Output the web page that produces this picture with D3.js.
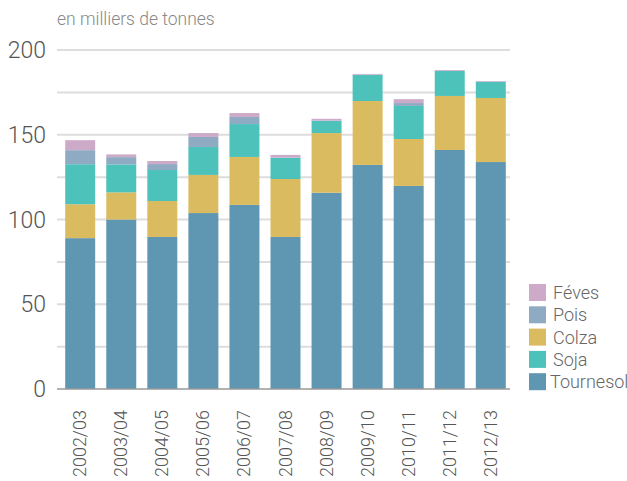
<!DOCTYPE html>
<html>
<head>
<meta charset="utf-8">
<script src="https://cdn.jsdelivr.net/npm/d3@7"></script>
<style>
  body { margin: 0; background: #fff; }
  text { font-family: Roboto, "Noto Sans", sans-serif; font-weight: 300; }
</style>
</head>
<body>
<svg width="627" height="481"></svg>
<script>
const width = 627;
const height = 481;

// data (milliers de tonnes)
const years = ["2002/03", "2003/04", "2004/05", "2005/06", "2006/07", "2007/08",
               "2008/09", "2009/10", "2010/11", "2011/12", "2012/13"];
const tournesol = [89, 100, 89.7, 103.8, 108.6, 89.7, 115.8, 132.2, 119.8, 141, 133.9];
const soja      = [23.6, 16.5, 18.3, 16.5, 19.4, 12.4, 7.1, 15.4, 19.5, 14.7, 9.4];
const colza     = [20, 16, 21.2, 22.5, 28.3, 34.2, 35.2, 37.7, 27.7, 31.9, 37.8];
const pois      = [8.3, 4.3, 3.5, 5.9, 4.2, 0.3, 0.3, 0.2, 1.7, 0.1, 0.3];
const feves     = [5.9, 1.6, 1.8, 2.3, 2.3, 1.5, 1.0, 0.4, 2.3, 0.5, 0.3];
const yTicks = [0, 50, 100, 150, 200];
const legendOrder = ["Féves", "Pois", "Colza", "Soja", "Tournesol"];

const series = [
  { key: "Tournesol", values: tournesol, color: "#5f96b2" },
  { key: "Colza", values: colza, color: "#dbbb5f" },
  { key: "Soja", values: soja, color: "#4cc2ba" },
  { key: "Pois", values: pois, color: "#8eabc3" },
  { key: "Féves", values: feves, color: "#cdaac8" }
];

const rows = years.map((y, i) => {
  const r = { year: y };
  series.forEach(s => r[s.key] = s.values[i]);
  return r;
});
const stacked = d3.stack().keys(series.map(s => s.key))(rows);

const svg = d3.select("svg");

const x = d3.scaleBand()
  .domain(years)
  .range([57, 514])
  .paddingInner(0.27)
  .paddingOuter(0.2);

const y = d3.scaleLinear()
  .domain([0, 200])
  .range([389, 50]);

// gridlines every 25
svg.append("g")
  .selectAll("line")
  .data(d3.range(25, 201, 25))
  .enter()
  .append("line")
  .attr("x1", 57)
  .attr("x2", 510)
  .attr("y1", d => y(d))
  .attr("y2", d => y(d))
  .attr("stroke", "#dddddd")
  .attr("stroke-width", 2);

// bars
svg.append("g")
  .selectAll("g")
  .data(stacked)
  .enter()
  .append("g")
  .attr("fill", (d, i) => series[i].color)
  .selectAll("rect")
  .data(d => d)
  .enter()
  .append("rect")
  .attr("x", d => x(d.data.year))
  .attr("width", x.bandwidth())
  .attr("y", d => y(d[1]))
  .attr("height", d => y(d[0]) - y(d[1]));

// baseline
svg.append("line")
  .attr("x1", 57)
  .attr("x2", 510)
  .attr("y1", y(0))
  .attr("y2", y(0))
  .attr("stroke", "#999")
  .attr("stroke-width", 1.5);

// y labels
svg.append("g")
  .selectAll("text")
  .data(yTicks)
  .enter()
  .append("text")
  .attr("x", 46)
  .attr("y", d => y(d))
  .attr("dy", "0.35em")
  .attr("text-anchor", "end")
  .attr("font-size", 23)
  .attr("fill", "#555")
  .text(d => d);

// x labels, rotated
svg.append("g")
  .selectAll("text")
  .data(years)
  .enter()
  .append("text")
  .attr("transform", d => `translate(${x(d) + x.bandwidth() / 2 + 6},410) rotate(-90)`)
  .attr("text-anchor", "end")
  .attr("font-size", 18)
  .attr("fill", "#555")
  .text(d => d);

// unit title
svg.append("text")
  .attr("x", 57)
  .attr("y", 25)
  .attr("font-size", 17.5)
  .attr("fill", "#888")
  .text("en milliers de tonnes");

// legend
const legend = svg.append("g")
  .selectAll("g")
  .data(legendOrder.map(k => series.find(s => s.key === k)))
  .enter()
  .append("g")
  .attr("transform", (d, i) => `translate(529,${284 + i * 22.3})`);

legend.append("rect")
  .attr("width", 17)
  .attr("height", 17)
  .attr("fill", d => d.color);

legend.append("text")
  .attr("x", d => d.key === "Tournesol" ? 21 : 24)
  .attr("y", 15)
  .attr("font-size", 18)
  .attr("fill", "#666")
  .text(d => d.key);
</script>
</body>
</html>
